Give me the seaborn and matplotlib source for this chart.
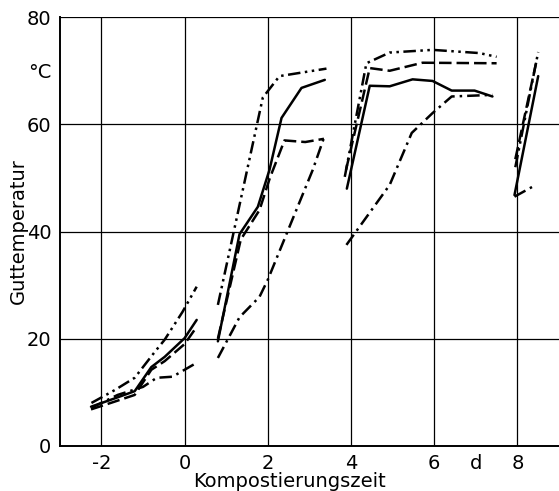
import pandas as pd
import seaborn as sns
import matplotlib.pyplot as plt

# Kompostierungszeit (d) and Guttemperatur (°C), four measuring runs each
solid_x = [[-2.25, -1.7, -1.2, -0.8, -0.48, 0.0, 0.29],
           [0.8, 1.32, 1.76, 2.04, 2.33, 2.81, 3.37],
           [3.9, 4.45, 4.93, 5.48, 5.96, 6.42, 6.97, 7.4],
           [7.93, 8.5]]
solid_y = [[7.3, 8.8, 10.2, 14.7, 16.6, 20.1, 23.5],
           [19.5, 39.5, 44.6, 51.5, 61.2, 66.8, 68.3],
           [48.0, 67.2, 67.1, 68.4, 68.1, 66.3, 66.3, 65.2],
           [46.8, 69.0]]

dashed_x = [[-2.25, -1.7, -1.2, -0.8, -0.48, 0.0, 0.29],
            [0.8, 1.35, 1.8, 2.05, 2.4, 2.9, 3.35],
            [3.88, 4.45, 4.93, 5.72, 7.5],
            [7.95, 8.45]]
dashed_y = [[6.8, 8.2, 9.5, 14.2, 15.8, 19.0, 22.2],
            [20.0, 38.5, 44.0, 50.0, 57.0, 56.7, 57.3],
            [51.5, 70.5, 70.0, 71.5, 71.4],
            [53.5, 71.5]]

dashdotdot_x = [[-2.24, -1.68, -1.2, -0.72, -0.48, -0.05, 0.29],
                [0.8, 1.88, 2.28, 3.41],
                [3.85, 4.37, 4.93, 5.96, 7.09, 7.5],
                [7.95, 8.5]]
dashdotdot_y = [[8.0, 10.4, 12.7, 17.5, 19.8, 25.0, 29.7],
                [26.3, 65.0, 69.0, 70.4],
                [50.2, 71.4, 73.4, 73.9, 73.3, 72.6],
                [52.0, 73.5]]

dashdot_x = [[-2.24, -1.61, -1.0, -0.67, -0.29, 0.29],
             [0.8, 1.32, 1.8, 2.0, 3.08, 3.35],
             [3.89, 4.93, 5.46, 5.96, 6.42, 7.4],
             [7.93, 8.42]]
dashdot_y = [[7.1, 9.5, 11.0, 12.7, 12.9, 15.5],
             [16.4, 24.0, 27.8, 31.0, 51.5, 57.5],
             [37.5, 48.7, 58.4, 62.1, 65.2, 65.5],
             [46.5, 48.6]]

series = {
    'solid': (solid_x, solid_y),
    'dashed': (dashed_x, dashed_y),
    'dashdotdot': (dashdotdot_x, dashdotdot_y),
    'dashdot': (dashdot_x, dashdot_y),
}

rows = []
for name, (xs, ys) in series.items():
    for k, (sx, sy) in enumerate(zip(xs, ys)):
        for x, y in zip(sx, sy):
            rows.append({'serie': name, 'seg': f'{name}{k}', 'zeit': x, 'temp': y})
df = pd.DataFrame(rows)

sns.set_style('white')
plt.rcParams['font.family'] = ['DejaVu Sans']
plt.rcParams['text.color'] = 'black'
plt.rcParams['axes.labelcolor'] = 'black'

fig = plt.figure(figsize=(5.59, 4.91), dpi=100)
ax = fig.add_axes([0.107, 0.092, 0.893, 0.873])

sns.lineplot(data=df, x='zeit', y='temp', style='serie', units='seg',
             estimator=None, sort=False, color='black', linewidth=1.8,
             dashes={'solid': '', 'dashed': (5, 2), 'dashdot': (5, 2, 1, 2),
                     'dashdotdot': (5, 1.8, 1, 1.8, 1, 1.8)},
             legend=False, ax=ax)

ax.set_xlim(-3.0, 9.0)
ax.set_ylim(0, 80)
ax.set_xticks([-2, 0, 2, 4, 6, 8])
ax.set_xticklabels(['-2', '0', '2', '4', '6', '8'])
ax.set_xticks([7], ['d'], minor=True)
ax.set_yticks([0, 20, 40, 60, 80])
ax.set_yticks([70], ['°C'], minor=True)
ax.grid(True, which='major', color='black', linewidth=0.9)
ax.tick_params(which='both', length=0, labelsize=14, pad=6,
               colors='black', labelcolor='black')

for s in ['top', 'right']:
    ax.spines[s].set_visible(False)
for s in ['left', 'bottom']:
    ax.spines[s].set_color('black')
    ax.spines[s].set_linewidth(1.4)

ax.set_xlabel('Kompostierungszeit', fontsize=14, color='black')
ax.set_ylabel('Guttemperatur', fontsize=14, color='black')
ax.xaxis.set_label_coords(0.46, -0.06)
ax.yaxis.set_label_coords(-0.063, 0.5)

fig.savefig('out.png', dpi=100)
